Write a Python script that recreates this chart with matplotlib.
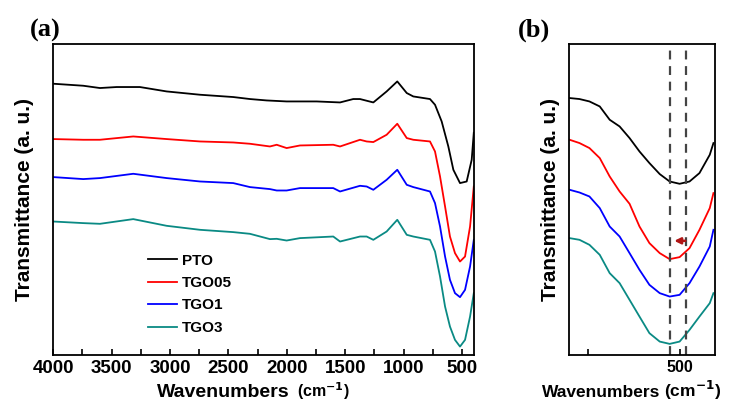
import matplotlib
matplotlib.use("Agg")
import matplotlib.pyplot as plt
from matplotlib.ticker import MultipleLocator

plt.rcParams['font.family'] = ['Liberation Sans', 'DejaVu Sans']
plt.rcParams['font.weight'] = 'bold'
plt.rcParams['mathtext.default'] = 'bf'

# ---- panel (a): full FTIR spectra (a.u.) ----
wn_pto = [4000, 3743, 3600, 3457, 3258, 3029, 2743, 2459, 2316, 2173, 2002, 1745,
          1545, 1432, 1374, 1260, 1146, 1055, 974, 918, 775, 732, 675, 618, 575,
          518, 461, 418, 400]
t_pto = [316, 314, 311.7, 312.7, 312.7, 308.3, 305, 302.7, 300.7, 299.3, 298.3, 298.3,
         297.3, 300.7, 300.7, 297.3, 308.3, 318.3, 306.7, 303.3, 300.7, 295, 278.3, 253.3, 230,
         216.7, 218.3, 240, 267]

wn_tgo = [4000, 3743, 3600, 3315, 3029, 2743, 2459, 2316, 2145, 2087, 2002, 1888,
          1603, 1545, 1374, 1317, 1260, 1146, 1055, 974, 918, 775, 732, 689, 646,
          604, 561, 518, 475, 432, 400]
t_tgo05 = [260.7, 260, 260, 263.3, 260.7, 258.3, 257.3, 256, 253.3, 255, 251.7, 254.3,
           255, 253.3, 260, 258.3, 257.7, 265, 276, 261.7, 260, 258.3, 248.3, 223.3, 193.3,
           163.3, 146.7, 138.3, 143.3, 173.3, 213.3]
t_tgo1 = [222.7, 220.7, 221.7, 226, 221.7, 218.3, 216.7, 212.7, 210.7, 209.3, 209.3, 211.7,
          211.7, 208.3, 214, 213.3, 210, 220, 230, 215, 212.7, 208.3, 196.7, 173.3, 143.3,
          120, 106.7, 102.7, 110, 133.3, 160]
t_tgo3 = [178.3, 176.7, 176, 180.7, 174, 170, 167.7, 166, 160.7, 161, 159.3, 161.7,
          163.3, 158.3, 163.3, 163.3, 160, 168.3, 180, 165, 163.3, 160, 148.3, 123.3, 93.3,
          73.3, 60, 53.3, 60, 83.3, 106.7]

# ---- panel (b): zoom on the Ti-O band ----
wn_zoom = [799, 772, 745, 717, 690, 663, 636, 609, 582, 554, 527, 500, 473, 446, 418, 408]
z_pto = [301.7, 300.7, 298.3, 293.3, 280, 273.3, 261.7, 248.3, 236.7, 225.7, 218.3, 216,
         218.3, 226.7, 245, 256.7]
z_tgo05 = [260, 256.7, 251.7, 241.7, 223.3, 208.3, 196, 173.3, 156.7, 146.7, 140.7, 142.7,
           151.7, 170, 191.7, 206.7]
z_tgo1 = [210, 207.3, 203.3, 191.7, 173.3, 163.3, 146.7, 130, 115, 106.7, 103.3, 105,
          116.7, 133.3, 153.3, 170]
z_tgo3 = [161.7, 160, 155, 145, 126.7, 116.7, 100, 83.3, 66.7, 58.3, 56, 58.3,
          70, 83.3, 96.7, 106.7]
dash_pos = [525, 482]

names = ['PTO', 'TGO05', 'TGO1', 'TGO3']
colors = ['black', '#ff0000', '#0000ff', '#0a8a84']

fig = plt.figure(figsize=(7.34, 4.01), dpi=100)
ax1 = fig.add_axes([0.0725, 0.115, 0.573, 0.776])
ax2 = fig.add_axes([0.7755, 0.115, 0.198, 0.776])

series_a = [(wn_pto, t_pto), (wn_tgo, t_tgo05), (wn_tgo, t_tgo1), (wn_tgo, t_tgo3)]
for (x, y), name, c in zip(series_a, names, colors):
    ax1.plot(x, y, color=c, lw=1.3, label=name)

for y, c in zip([z_pto, z_tgo05, z_tgo1, z_tgo3], colors):
    ax2.plot(wn_zoom, y, color=c, lw=1.3)

for xv in dash_pos:
    ax2.axvline(xv, color='#444444', lw=1.6, ls=(0, (4, 3)))
ax2.annotate('', xy=(522, 159), xytext=(477, 159),
             arrowprops=dict(arrowstyle='-|>', color='#b01515', lw=1.8,
                             mutation_scale=9))

ax1.set_xlim(4000, 400)
ax2.set_xlim(800, 405)
for ax, tsize in ((ax1, 13.5), (ax2, 11.5)):
    ax.set_ylim(45, 356)
    ax.set_yticks([])
    ax.xaxis.set_major_locator(MultipleLocator(500))
    ax.xaxis.set_minor_locator(MultipleLocator(250))
    ax.tick_params(axis='x', which='both', direction='in', length=4, width=1.2,
                   labelsize=tsize, pad=4)
    for s in ax.spines.values():
        s.set_linewidth(1.3)
    for lab in ax.get_xticklabels():
        lab.set_fontweight('bold')
    ax.set_ylabel('Transmittance (a. u.)', fontsize=15, fontweight='bold')

ax1.yaxis.set_label_coords(-0.046, 0.5)
ax2.yaxis.set_label_coords(-0.06, 0.5)

# x label: "Wavenumbers" large, "(cm-1)" smaller, as in the original
xlab = [(ax1, 0.563, 0.579, 14, 11.5), (ax2, 0.626, 0.655, 12.5, 12.5)]
for ax, x_word, x_unit, s_word, s_unit in xlab:
    ax.text(x_word, -0.135, 'Wavenumbers', transform=ax.transAxes, ha='right',
            va='baseline', fontsize=s_word, fontweight='bold')
    ax.text(x_unit, -0.135, '(cm$^{-1}$)', transform=ax.transAxes, ha='left',
            va='baseline', fontsize=s_unit, fontweight='bold')

leg = ax1.legend(loc='upper left', bbox_to_anchor=(0.21, 0.345), frameon=False,
                 prop={'weight': 'bold', 'size': 11}, handlelength=1.9,
                 handletextpad=0.35, labelspacing=0.55, borderaxespad=0)

fig.text(0.062, 0.925, '(a)', fontsize=19, fontweight='bold', ha='center', va='center',
         family='Liberation Serif')
fig.text(0.728, 0.925, '(b)', fontsize=19, fontweight='bold', ha='center', va='center',
         family='Liberation Serif')

fig.savefig('out.png', dpi=100)
